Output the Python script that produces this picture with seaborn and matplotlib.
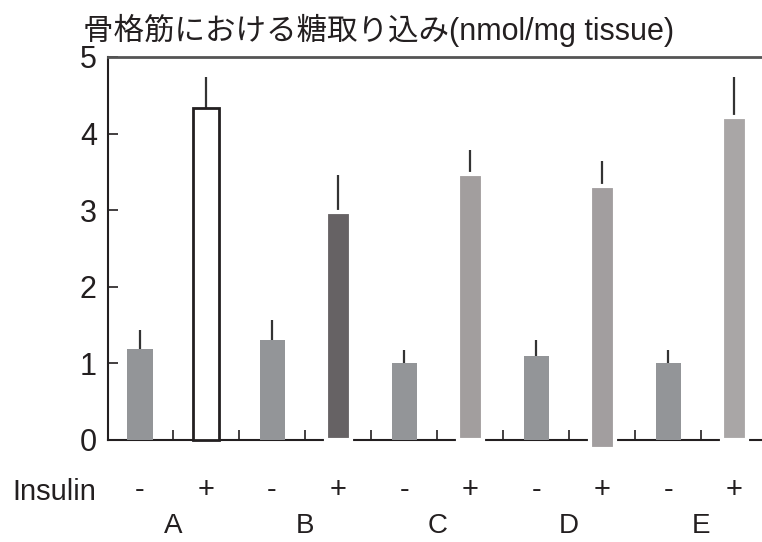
import numpy as np
import pandas as pd
import seaborn as sns
import matplotlib.pyplot as plt
import matplotlib.transforms as mtransforms

# 値
barras = ["A-", "A+", "B-", "B+", "C-", "C+", "D-", "D+", "E-", "E+"]
insulina = ["-", "+", "-", "+", "-", "+", "-", "+", "-", "+"]
grupos = ["A", "B", "C", "D", "E"]
valores = [1.19, 4.33, 1.31, 2.98, 1.00, 3.47, 1.10, 3.32, 1.00, 4.22]
errores = [0.24, 0.41, 0.26, 0.48, 0.17, 0.32, 0.21, 0.32, 0.17, 0.52]
bases = [0, 0, 0, 0, 0, 0, 0, -0.12, 0, 0]
colores = ["#939598", "#ffffff", "#939598", "#666264", "#939598",
           "#a29e9e", "#939598", "#a29e9f", "#939598", "#a9a6a6"]
titulo = "骨格筋における糖取り込み(nmol/mg tissue)"


def main():
    sns.set_style("ticks")
    plt.rcParams["font.family"] = ["Liberation Sans", "Noto Sans CJK JP"]

    df = pd.DataFrame({"barra": barras, "valor": valores})

    fig = plt.figure(figsize=(7.62, 5.42), dpi=100)
    ax = fig.add_axes([0.1417, 0.167, 0.8583, 0.7279])

    sns.barplot(data=df, x="barra", y="valor", hue="barra", order=barras,
                hue_order=barras, palette=colores, legend=False,
                width=0.38, saturation=1, ax=ax)

    # ajustar barras: base, bordes
    for i, p in enumerate(ax.patches):
        p.set_y(bases[i])
        p.set_height(valores[i] - bases[i])
        p.set_zorder(3)
        if insulina[i] == "+":
            if i == 1:
                p.set_edgecolor("#231f20")
                p.set_linewidth(2)
            else:
                p.set_edgecolor("white")
                p.set_linewidth(3)
        else:
            p.set_linewidth(0)

    x = np.arange(len(barras))
    ax.errorbar(x, valores, yerr=[np.zeros(len(x)), errores], fmt="none",
                ecolor="#333333", elinewidth=1.6, capsize=0, zorder=2)

    ax.set_xlim(-0.485, 9.42)
    ax.set_ylim(-0.15, 5)
    ax.set_xlabel("")
    ax.set_ylabel("")

    ax.set_yticks([0, 1, 2, 3, 4, 5])
    ax.tick_params(axis="y", direction="in", length=7, width=1.2,
                   labelsize=22, pad=8, colors="#231f20")
    ax.set_xticks(np.arange(0.5, 9, 1))
    ax.set_xticklabels([])
    ax.tick_params(axis="x", direction="in", length=7, width=1.2,
                   colors="#231f20")

    ax.spines["right"].set_visible(False)
    ax.spines["bottom"].set_position(("data", 0))
    ax.spines["left"].set_bounds(0, 5)
    for s in ["left", "bottom"]:
        ax.spines[s].set_color("#231f20")
        ax.spines[s].set_linewidth(1.5)
    ax.spines["top"].set_color("#555555")
    ax.spines["top"].set_linewidth(2)

    # etiquetas inferiores
    trans = mtransforms.blended_transform_factory(ax.transData, fig.transFigure)
    for i, s in enumerate(insulina):
        ax.text(i, 1 - 490 / 542, s, transform=trans, ha="center",
                va="center", fontsize=21, color="#231f20")
    for j, g in enumerate(grupos):
        ax.text(2 * j + 0.5, 1 - 526 / 542, g, transform=trans, ha="center",
                va="center", fontsize=20, color="#231f20")
    fig.text(12 / 762, 1 - 492 / 542, "Insulin", ha="left", va="center",
             fontsize=21, color="#231f20")

    fig.text(379 / 762, 1 - 30 / 542, titulo, ha="center", va="center",
             fontsize=22, color="#231f20")

    plt.savefig("out.png", dpi=100)


if __name__ == "__main__":
    main()
